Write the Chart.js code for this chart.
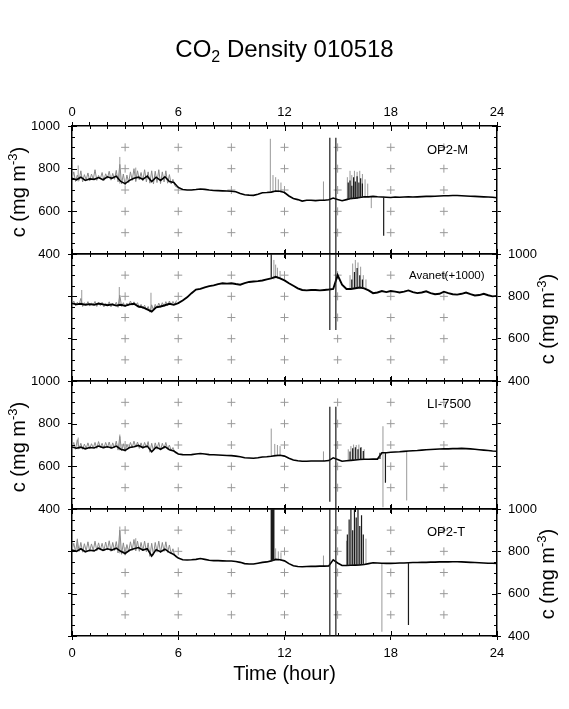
<!DOCTYPE html>
<html lang="en">
<head>
<meta charset="UTF-8">
<title>CO2 Density 010518</title>
<script src="https://cdn.jsdelivr.net/npm/chart.js"></script>
<style>
    body {
        margin: 0;
        padding: 0;
        background: #fff;
        font-family: "Liberation Sans", Arial, sans-serif;
    }
    #wrap {
        position: relative;
        width: 569px;
        height: 709px;
        overflow: hidden;
    }
    #wrap canvas {
        position: absolute;
        left: 0;
        top: 0;
    }
    .txt {
        position: absolute;
        color: #000;
        white-space: nowrap;
    }
    #title {
        left: 0;
        width: 569px;
        text-align: center;
        top: 35px;
        font-size: 24px;
    }
    #title sub {
        font-size: 16px;
        vertical-align: -5px;
        line-height: 0;
    }
    .ylab {
        font-size: 20px;
        transform: translate(-50%, -50%) rotate(-90deg);
    }
    .ylab sup {
        font-size: 13px;
        vertical-align: 8px;
        line-height: 0;
    }
    #xlab {
        font-size: 20px;
        left: 284.5px;
        top: 673px;
        transform: translate(-50%, -50%);
    }
    .plab {
        font-size: 13px;
        transform: translateY(-50%);
    }
</style>
</head>
<body>

<div id="wrap">
    <canvas id="p0" width="569" height="709"></canvas>
    <canvas id="p1" width="569" height="709"></canvas>
    <canvas id="p2" width="569" height="709"></canvas>
    <canvas id="p3" width="569" height="709"></canvas>

    <div class="txt" id="title">CO<sub>2</sub> Density 010518</div>

    <div class="txt ylab" style="left:18px; top:192px;">c (mg m<sup>-3</sup>)</div>
    <div class="txt ylab" style="left:547px; top:319px;">c (mg m<sup>-3</sup>)</div>
    <div class="txt ylab" style="left:18px; top:447px;">c (mg m<sup>-3</sup>)</div>
    <div class="txt ylab" style="left:547px; top:574px;">c (mg m<sup>-3</sup>)</div>

    <div class="txt" id="xlab">Time (hour)</div>

    <div class="txt plab" style="left:427px; top:149px;">OP2-M</div>
    <div class="txt plab" style="left:409px; top:275px; font-size:11.5px;">Avanet(+1000)</div>
    <div class="txt plab" style="left:427px; top:403px;">LI-7500</div>
    <div class="txt plab" style="left:427px; top:531px;">OP2-T</div>
</div>

<script>
    // sample times (hour of day)
    const hours = [
        0, 0.25, 0.5, 0.75, 1, 1.25, 1.5, 1.75, 2, 2.25, 2.5, 2.75,
        3, 3.25, 3.5, 3.75, 4, 4.25, 4.5, 4.75, 5, 5.25, 5.5, 5.75,
        6, 6.25, 6.5, 6.75, 7, 7.25, 7.5, 7.75, 8, 8.25, 8.5, 8.75,
        9, 9.25, 9.5, 9.75, 10, 10.25, 10.5, 10.75, 11, 11.25, 11.5, 11.75,
        12, 12.25, 12.5, 12.75, 13, 13.25, 13.5, 13.75, 14, 14.25, 14.5, 14.75,
        15, 15.25, 15.5, 15.75, 16, 16.25, 16.5, 16.75, 17, 17.25, 17.5, 17.75,
        18, 18.25, 18.5, 18.75, 19, 19.25, 19.5, 19.75, 20, 20.25, 20.5, 20.75,
        21, 21.25, 21.5, 21.75, 22, 22.25, 22.5, 22.75, 23, 23.25, 23.5, 23.75,
        24
    ];

    // CO2 density (mg m-3), one row per 3 hours
    const op2mValues = [
        755, 748, 760, 745, 752, 750, 758, 748, 762, 755, 765, 740,
        730, 745, 755, 760, 750, 765, 740, 760, 745, 762, 740, 735,
        712, 702, 700, 700, 702, 705, 703, 700, 698, 697, 696, 695,
        694, 692, 684, 678, 676, 675, 680, 687, 688, 690, 695, 694,
        688, 672, 660, 655, 648, 652, 652, 650, 652, 652, 654, 662,
        655, 650, 655, 660, 662, 665, 668, 668, 670, 668, 667, 666,
        665, 667, 666, 667, 668, 667, 668, 669, 670, 670, 671, 672,
        673, 673, 674, 674, 673, 672, 671, 670, 669, 668, 667, 666,
        664
    ];
    const avanetValues = [
        767, 762, 765, 760, 763, 760, 766, 762, 758, 762, 756, 760,
        755, 762, 765, 752, 748, 738, 728, 748, 752, 758, 765, 760,
        768, 780, 795, 815, 832, 835, 842, 848, 852, 858, 862, 860,
        862, 858, 855, 862, 868, 870, 872, 875, 880, 885, 892, 885,
        875, 862, 850, 838, 830, 828, 830, 830, 828, 830, 832, 835,
        900, 855, 835, 835, 838, 842, 838, 828, 815, 818, 825, 820,
        825, 822, 818, 822, 828, 820, 815, 818, 824, 815, 810, 812,
        822, 815, 810, 808, 812, 818, 810, 804, 806, 812, 805, 800,
        802
    ];
    const li7500Values = [
        691, 685, 690, 682, 688, 686, 695, 688, 692, 686, 695, 680,
        675, 688, 692, 698, 688, 695, 668, 690, 680, 692, 678, 672,
        658, 655, 654, 655, 658, 660, 658, 655, 654, 653, 652, 651,
        650, 648, 645, 640, 639, 638, 640, 644, 645, 647, 650, 652,
        648, 638, 630, 626, 624, 624, 625, 625, 625, 625, 627, 640,
        632, 624, 626, 628, 630, 632, 633, 633, 634, 634, 664, 664,
        666, 667, 668, 670, 672, 673, 674, 676, 678, 679, 680, 681,
        682, 682, 683, 683, 684, 683, 682, 680, 678, 676, 674, 672,
        671
    ];
    const op2tValues = [
        806, 800, 812, 798, 805, 802, 815, 805, 812, 806, 815, 800,
        790, 805, 812, 818, 806, 812, 778, 808, 798, 810, 795, 785,
        768, 760, 759, 760, 762, 766, 762, 758, 756, 756, 755, 754,
        754, 752, 748, 742, 740, 740, 744, 748, 750, 755, 762, 760,
        755, 742, 732, 728, 727, 728, 729, 729, 730, 730, 731, 760,
        745, 733, 733, 734, 735, 736, 738, 742, 746, 745, 744, 743,
        743, 744, 745, 745, 746, 747, 747, 748, 748, 749, 749, 750,
        750, 750, 751, 751, 750, 749, 748, 747, 746, 745, 744, 744,
        743
    ];

    // early-morning raw fluctuations, every 0.1 h
    const noiseHours = [
        0, 0.1, 0.2, 0.3, 0.4, 0.5, 0.6, 0.7, 0.8, 0.9,
        1, 1.1, 1.2, 1.3, 1.4, 1.5, 1.6, 1.7, 1.8, 1.9,
        2, 2.1, 2.2, 2.3, 2.4, 2.5, 2.6, 2.7, 2.8, 2.9,
        3, 3.1, 3.2, 3.3, 3.4, 3.5, 3.6, 3.7, 3.8, 3.9,
        4, 4.1, 4.2, 4.3, 4.4, 4.5, 4.6, 4.7, 4.8, 4.9,
        5, 5.1, 5.2, 5.3, 5.4, 5.5, 5.6, 5.7, 5.8, 5.9
    ];
    const op2mNoise = [
        752, 785, 740, 770, 745, 790, 738, 772, 748, 780,
        742, 775, 750, 795, 745, 768, 752, 782, 744, 776,
        755, 788, 746, 778, 750, 792, 738, 820, 728, 775,
        722, 770, 735, 785, 745, 800, 740, 790, 748, 782,
        742, 795, 738, 785, 732, 790, 728, 788, 735, 795,
        730, 785, 738, 790, 732, 772, 728, 750, 722, 712
    ];
    const avanetNoise = [
        765, 778, 755, 772, 760, 790, 752, 770, 758, 775,
        754, 768, 760, 776, 752, 770, 756, 772, 750, 766,
        758, 774, 750, 768, 755, 772, 748, 805, 752, 770,
        750, 768, 756, 778, 758, 774, 760, 770, 745, 762,
        742, 758, 735, 752, 725, 760, 735, 762, 745, 768,
        748, 770, 752, 775, 756, 778, 760, 776, 762, 780
    ];
    const li7500Noise = [
        690, 712, 680, 725, 682, 708, 680, 704, 684, 710,
        682, 706, 686, 712, 684, 716, 688, 708, 684, 712,
        688, 714, 682, 710, 686, 718, 676, 740, 672, 706,
        670, 702, 684, 712, 688, 718, 690, 714, 684, 710,
        684, 712, 688, 716, 666, 708, 672, 710, 680, 712,
        676, 708, 684, 712, 680, 700, 674, 688, 666, 660
    ];
    const op2tNoise = [
        805, 838, 798, 855, 800, 842, 796, 836, 802, 845,
        800, 835, 804, 848, 802, 840, 806, 838, 802, 844,
        806, 850, 800, 842, 804, 846, 792, 900, 786, 840,
        784, 832, 798, 845, 805, 856, 802, 848, 800, 842,
        802, 848, 798, 840, 776, 838, 782, 842, 796, 848,
        794, 842, 800, 845, 795, 830, 788, 812, 778, 770
    ];

    // short excursions: [hour, low, high]
    const op2mGray = [
        [0.35, 740, 815], [2.7, 730, 855], [3.6, 740, 805],
        [11.2, 690, 940], [11.35, 690, 770], [11.5, 690, 760], [11.65, 690, 750], [11.8, 688, 735],
        [14.2, 652, 740],
        [15.55, 655, 760], [15.7, 660, 790], [15.8, 655, 770], [15.95, 660, 790], [16.1, 660, 785],
        [16.25, 662, 790], [16.4, 665, 775], [16.55, 665, 750], [16.7, 668, 730], [16.9, 615, 668]
    ];
    const op2mDark = [
        [14.56, 400, 945], [14.9, 400, 945],
        [15.6, 655, 735], [15.7, 658, 745], [15.8, 658, 720], [15.9, 660, 760], [16.0, 660, 740],
        [16.1, 660, 765], [16.2, 662, 735], [16.3, 665, 755], [16.4, 665, 730],
        [17.6, 486, 668]
    ];
    const avanetGray = [
        [0.55, 760, 830], [2.67, 755, 844], [4.46, 728, 817],
        [11.4, 880, 972], [11.5, 885, 950], [11.6, 885, 935], [11.75, 882, 920],
        [15.7, 835, 900], [15.85, 835, 955], [16.0, 838, 972], [16.15, 840, 960], [16.3, 842, 940],
        [16.45, 838, 900], [16.6, 835, 880]
    ];
    const avanetDark = [
        [11.25, 885, 1000],
        [14.56, 641, 1000], [14.9, 641, 1000],
        [15.8, 835, 880], [15.95, 838, 915], [16.1, 840, 934], [16.25, 842, 900], [16.4, 838, 880]
    ];
    const li7500Gray = [
        [0.35, 680, 735], [2.7, 675, 749],
        [11.25, 645, 777], [11.45, 648, 705], [11.6, 648, 700], [11.75, 650, 695],
        [14.2, 625, 670],
        [15.6, 626, 680], [15.75, 628, 695], [15.9, 628, 702], [16.05, 630, 700], [16.2, 632, 702],
        [16.35, 632, 690], [16.5, 633, 680],
        [17.56, 408, 788], [18.9, 440, 667]
    ];
    const li7500Dark = [
        [14.56, 434, 879], [14.9, 400, 879],
        [15.7, 627, 670], [15.85, 628, 685], [16.0, 630, 690], [16.15, 631, 680], [16.3, 632, 688],
        [16.45, 633, 672],
        [17.39, 634, 664], [17.7, 523, 664]
    ];
    const op2tGray = [
        [0.3, 800, 860], [2.7, 790, 917], [3.6, 805, 862],
        [11.5, 758, 814], [11.65, 758, 800], [11.8, 755, 795],
        [14.2, 730, 780],
        [15.5, 733, 850], [16.6, 738, 860],
        [17.5, 420, 744]
    ];
    const op2tDark = [
        [11.25, 755, 1000], [11.3, 755, 1000], [11.35, 755, 1000], [11.4, 755, 1000],
        [14.56, 400, 1000], [14.9, 400, 1000],
        [15.55, 733, 880], [15.65, 733, 950], [15.75, 734, 1000], [15.85, 734, 900], [15.95, 735, 1000],
        [16.05, 735, 960], [16.15, 736, 1000], [16.25, 736, 920], [16.35, 737, 970], [16.45, 738, 880],
        [19.0, 452, 746]
    ];

    // axes / background crosses
    const hourTicks = [0, 6, 12, 18, 24];
    const concTicks = [400, 600, 800, 1000];
    const crossHours = [3, 6, 9, 12, 15, 18, 21];
    const crossLevels = [500, 600, 700, 800, 900];

    // where each panel sits on the page
    const panels = [
        { id: 'p0', values: op2mValues, noise: op2mNoise, gray: op2mGray, dark: op2mDark, top: 126, bottom: 254, leftLabels: true, topLabels: true, bottomLabels: false, lw: 1.6 },
        { id: 'p1', values: avanetValues, noise: avanetNoise, gray: avanetGray, dark: avanetDark, top: 254, bottom: 381, leftLabels: false, topLabels: false, bottomLabels: false, lw: 1.9 },
        { id: 'p2', values: li7500Values, noise: li7500Noise, gray: li7500Gray, dark: li7500Dark, top: 381, bottom: 509, leftLabels: true, topLabels: false, bottomLabels: false, lw: 1.6 },
        { id: 'p3', values: op2tValues, noise: op2tNoise, gray: op2tGray, dark: op2tDark, top: 509, bottom: 636, leftLabels: false, topLabels: false, bottomLabels: true, lw: 1.6 }
    ];

    const PAGE_H = 709;
    const AXIS_W = 72;
    const TOP_AXIS_H = 24;
    const BOTTOM_AXIS_H = 30;
    const tickFont = { family: '"Liberation Sans", Arial, sans-serif', size: 13 };

    function spikePoints(list) {
        const pts = [];
        list.forEach(s => {
            pts.push({ x: s[0], y: s[1] }, { x: s[0], y: s[2] }, { x: s[0], y: null });
        });
        return pts;
    }

    function crossPoints() {
        const pts = [];
        crossHours.forEach(h => crossLevels.forEach(c => pts.push({ x: h, y: c })));
        return pts;
    }

    // GMT-like ticks pointing into the frame
    const innerTicks = {
        id: 'innerTicks',
        afterDraw(chart) {
            const { ctx, chartArea: a } = chart;
            const xs = chart.scales.x;
            const ys = chart.scales.y;
            ctx.save();
            ctx.strokeStyle = '#000';
            ctx.lineWidth = 1;
            ctx.beginPath();
            xs.ticks.forEach(t => {
                const px = Math.round(xs.getPixelForValue(t.value)) + 0.5;
                const len = hourTicks.includes(t.value) ? 5 : 3;
                ctx.moveTo(px, a.top);
                ctx.lineTo(px, a.top + len);
                ctx.moveTo(px, a.bottom);
                ctx.lineTo(px, a.bottom - len);
            });
            ys.ticks.forEach(t => {
                const py = Math.round(ys.getPixelForValue(t.value)) + 0.5;
                const len = concTicks.includes(t.value) ? 5 : 3;
                ctx.moveTo(a.left, py);
                ctx.lineTo(a.left + len, py);
                ctx.moveTo(a.right, py);
                ctx.lineTo(a.right - len, py);
            });
            ctx.stroke();
            ctx.restore();
        }
    };

    function xAxis(position, showLabels, outerMinor) {
        return {
            type: 'linear',
            position: position,
            min: 0,
            max: 24,
            afterFit: s => { s.height = position === 'top' ? TOP_AXIS_H : BOTTOM_AXIS_H; },
            border: { display: true, color: '#000', width: 1.5 },
            grid: {
                drawOnChartArea: false,
                drawTicks: true,
                tickLength: 4,
                tickWidth: 1,
                tickColor: c => (outerMinor || hourTicks.includes(c.tick.value)) ? '#000' : 'rgba(0,0,0,0)'
            },
            ticks: {
                stepSize: 1,
                autoSkip: false,
                maxRotation: 0,
                padding: position === 'top' ? 2 : 6,
                color: '#000',
                font: tickFont,
                callback: v => (showLabels && hourTicks.includes(v)) ? String(v) : ''
            }
        };
    }

    function yAxis(position, showLabels) {
        return {
            type: 'linear',
            position: position,
            min: 400,
            max: 1000,
            afterFit: s => { s.width = AXIS_W; },
            border: { display: true, color: '#000', width: 1.5 },
            grid: {
                drawOnChartArea: false,
                drawTicks: true,
                tickLength: 4,
                tickWidth: 1,
                tickColor: c => concTicks.includes(c.tick.value) ? '#000' : 'rgba(0,0,0,0)'
            },
            ticks: {
                stepSize: 50,
                autoSkip: false,
                padding: position === 'left' ? 8 : 7,
                color: '#000',
                font: tickFont,
                callback: v => (showLabels && concTicks.includes(v)) ? String(v) : ''
            }
        };
    }

    panels.forEach(p => {
        const ctx = document.getElementById(p.id).getContext('2d');
        new Chart(ctx, {
            type: 'line',
            data: {
                datasets: [
                    {
                        data: spikePoints(p.dark),
                        borderColor: '#1a1a1a',
                        borderWidth: 1.2,
                        pointRadius: 0,
                        spanGaps: false,
                        order: 0
                    },
                    {
                        data: hours.map((h, i) => ({ x: h, y: p.values[i] })),
                        borderColor: '#000',
                        borderWidth: p.lw,
                        pointRadius: 0,
                        order: 1
                    },
                    {
                        data: noiseHours.map((h, i) => ({ x: h, y: p.noise[i] })),
                        borderColor: '#8a8a8a',
                        borderWidth: 1,
                        pointRadius: 0,
                        order: 2
                    },
                    {
                        data: spikePoints(p.gray),
                        borderColor: '#999',
                        borderWidth: 1,
                        pointRadius: 0,
                        spanGaps: false,
                        order: 3
                    },
                    {
                        type: 'scatter',
                        data: crossPoints(),
                        pointStyle: 'cross',
                        pointRadius: 4,
                        borderColor: '#9a9a9a',
                        borderWidth: 1,
                        showLine: false,
                        order: 4
                    }
                ]
            },
            options: {
                responsive: false,
                animation: false,
                events: [],
                layout: {
                    padding: {
                        top: p.top - TOP_AXIS_H,
                        bottom: PAGE_H - p.bottom - BOTTOM_AXIS_H,
                        left: 0,
                        right: 0
                    }
                },
                plugins: {
                    legend: { display: false },
                    tooltip: { enabled: false },
                    title: { display: false }
                },
                scales: {
                    x: xAxis('bottom', p.bottomLabels, false),
                    xTop: xAxis('top', p.topLabels, p.topLabels),
                    y: yAxis('left', p.leftLabels),
                    yRight: yAxis('right', !p.leftLabels)
                }
            },
            plugins: [innerTicks]
        });
    });
</script>

</body>
</html>
